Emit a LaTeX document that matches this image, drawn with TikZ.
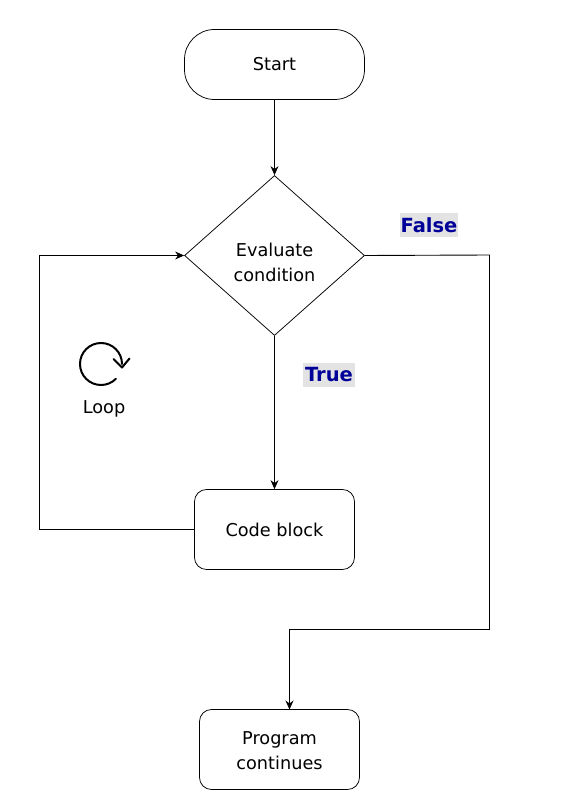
\documentclass[tikz,border=0pt]{standalone}
\usepackage{fontspec}
\setmainfont{DejaVu Sans}
\usetikzlibrary{shapes.geometric,arrows.meta,positioning}
\newcommand{\shiftedlines}[2]{\raisebox{#1}[0pt][0pt]{\begin{tabular}{@{}c@{}}#2\end{tabular}}}
\tikzset{
  flowbox/.style={draw=black,line width=0.75pt,fill=white,align=center,font=\fontsize{17.7}{25}\selectfont,inner sep=0pt},
  conn/.style={draw=black,line width=0.9pt,-{Stealth[length=9pt,width=8pt]}},
  tag/.style={fill=black!11,text=blue!60!black,font=\bfseries\fontsize{19.5}{20}\selectfont,inner sep=0pt,minimum height=24pt},
  plainlabel/.style={font=\fontsize{17.7}{20}\selectfont,inner sep=0pt},
}
\begin{document}
\begin{tikzpicture}[x=1pt,y=-1pt]
\useasboundingbox (0,0) rectangle (562,802);
\node[flowbox,rounded corners=30pt,minimum width=180pt,minimum height=70pt] (start) at (274.5,64.5) {Start};
\node[flowbox,diamond,aspect=1.125,minimum width=180pt,minimum height=160pt] (cond) at (274.5,255.5) {\shiftedlines{-13pt}{Evaluate\\condition}};
\node[flowbox,rounded corners=12pt,minimum width=160pt,minimum height=80pt] (code) at (274.5,529.5) {Code block};
\node[flowbox,rounded corners=12pt,minimum width=160pt,minimum height=80pt] (prog) at (279.5,749.5) {\shiftedlines{-7pt}{Program\\continues}};
\node[tag,minimum width=58pt] (false) at (429,225) {False};
\node[tag,minimum width=52pt] (true) at (329,375) {True};
\node[plainlabel] (loop) at (104,409) {Loop};
\coordinate (fa) at (489.5,255);
\coordinate (fb) at (489.5,629.5);
\coordinate (fc) at (289.5,629.5);
\coordinate (fd) at (289.5,709.5);
\coordinate (la) at (39.5,529.5);
\coordinate (lb) at (39.5,255.5);
\draw[conn] (start) -- (cond);
\draw[conn] (cond) -- (code);
\draw[conn] (cond.east) -- (fa) -- (fb) -- (fc) -- (fd);
\draw[conn] (code.west) -- (la) -- (lb) -- (cond.west);
\draw[line width=2pt,line cap=round,line join=round] (122,364) arc[start angle=0,end angle=315,x radius=21pt,y radius=21pt];
\draw[line width=2pt,line cap=round,line join=round] (113.5,359) -- (122,367.5) -- (129.5,358.5);
\end{tikzpicture}
\end{document}
